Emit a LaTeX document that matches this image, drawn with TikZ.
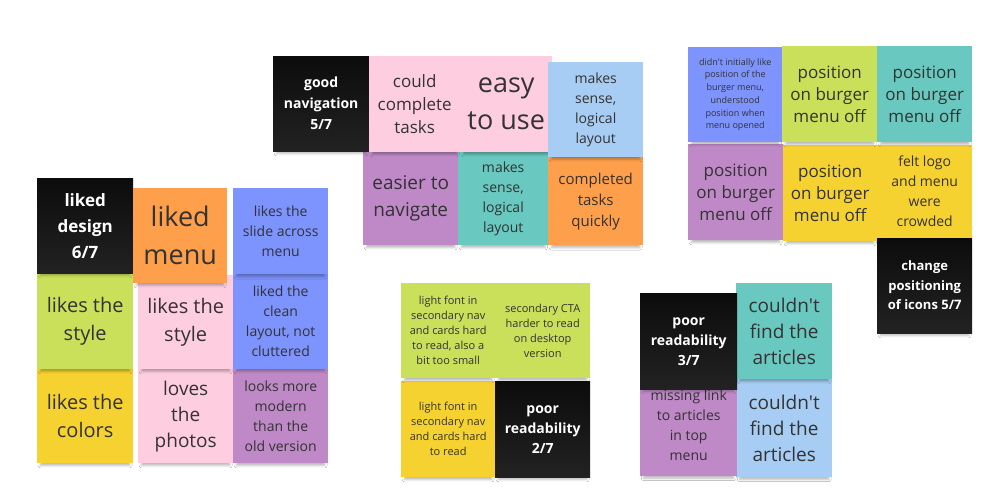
\documentclass[tikz,border=0pt]{standalone}
\usepackage{fontspec}
\setmainfont{Open Sans}[Ligatures=TeXOff]
\usetikzlibrary{shadows.blur}
\definecolor{ntext}{HTML}{333333}
\definecolor{cblack}{HTML}{0C0C0C}
\definecolor{cblack2}{HTML}{222222}
\definecolor{cpink}{HTML}{FECDE0}
\definecolor{clblue}{HTML}{A8CDF4}
\definecolor{cpurple}{HTML}{BF89C8}
\definecolor{cteal}{HTML}{69C8C0}
\definecolor{corange}{HTML}{FE9F4C}
\definecolor{cviolet}{HTML}{7D93FE}
\definecolor{clime}{HTML}{CADF5A}
\definecolor{cyellow}{HTML}{F6D230}
\newcommand{\fs}[2]{\fontsize{#1}{#2}\selectfont}
\begin{document}
\begin{tikzpicture}[x=1pt,y=-1pt,
  note/.style={anchor=north west, inner sep=0pt, align=center, text=ntext,
    blur shadow={shadow xshift=0pt, shadow yshift=-6pt, shadow scale=0.93, shadow blur radius=2.5pt, shadow opacity=28}},
  darknote/.style={note, text=white, top color=cblack, bottom color=cblack2, font=\bfseries},
  sz/.style n args={2}{minimum width=#1, minimum height=#2}
]
\fill[white] (0,0) rectangle (1007,499);
\useasboundingbox (0,0) rectangle (1007,499);

% ---- cluster 1 (top middle): lower row first
\node[note, fill=cpurple, sz={95pt}{93pt}, font=\fs{19}{27}] (en) at (363,152) {easier to\\navigate};
\node[note, fill=cteal, sz={90pt}{93pt}, font=\fs{14}{20}] (ms2) at (458,152) {makes\\sense,\\logical\\layout};
\node[note, fill=corange, sz={95pt}{88pt}, font=\fs{15}{21}] (ct) at (548,157) {completed\\tasks\\quickly};
\node[darknote, sz={96pt}{95pt}, font=\bfseries\fs{14}{21}] (gn) at (273,56) {good\\navigation\\5/7};
\node[note, fill=cpink, sz={91pt}{96pt}, font=\fs{17}{23}] (cc) at (369,56) {could\\complete\\tasks};
\node[note, fill=cpink, sz={92pt}{96pt}, font=\fs{27}{37}] (eu) at (460,56) {easy\\to use};
\node[note, fill=clblue, sz={95pt}{95pt}, font=\fs{14}{20}] (ms1) at (548,62) {makes\\sense,\\logical\\layout};

% ---- cluster 2 (top right)
\node[darknote, sz={95pt}{96pt}, font=\bfseries\fs{13}{19.5}] (cp) at (877,237) {change\\positioning\\of icons 5/7};
\node[note, fill=cpurple, sz={95pt}{96pt}, font=\fs{17}{22}] (p3) at (688,144) {position\\on burger\\menu off};
\node[note, fill=cyellow, sz={94pt}{96pt}, font=\fs{17}{22}] (p4) at (783,145) {position\\on burger\\menu off};
\node[note, fill=cyellow, sz={95pt}{93pt}, font=\fs{14}{20}] (fl) at (877,145) {felt logo\\and menu\\were\\crowded};
\node[note, fill=cviolet, sz={94pt}{95pt}, font=\fs{9}{12.7}] (di) at (688,47) {didn't initially like\\position of the\\burger menu,\\understood\\position when\\menu opened};
\node[note, fill=clime, sz={95pt}{96pt}, font=\fs{17}{22}] (p1) at (782,46) {position\\on burger\\menu off};
\node[note, fill=cteal, sz={95pt}{96pt}, font=\fs{17}{22}] (p2) at (877,46) {position\\on burger\\menu off};

% ---- cluster 3 (left)
\node[note, fill=cyellow, sz={96pt}{94pt}, font=\fs{20}{28}] (lco) at (37,369) {likes the\\colors};
\node[note, fill=cpink, sz={95pt}{94pt}, font=\fs{19}{26}] (lph) at (138,369) {loves\\the\\photos};
\node[note, fill=cpurple, sz={95pt}{94pt}, font=\fs{14}{20}] (lmo) at (233,369) {looks more\\modern\\than the\\old version};
\node[note, fill=clime, sz={96pt}{96pt}, font=\fs{20}{28}] (lst) at (37,273) {likes the\\style};
\node[note, fill=cpink, sz={95pt}{94pt}, font=\fs{20}{28}] (lsp) at (138,275) {likes the\\style};
\node[note, fill=cviolet, sz={95pt}{95pt}, font=\fs{14}{20}] (lcl) at (233,274) {liked the\\clean\\layout, not\\cluttered};
\node[darknote, sz={96pt}{95pt}, font=\bfseries\fs{17}{26}] (ld) at (37,178) {liked\\design\\6/7};
\node[note, fill=corange, sz={94pt}{95pt}, font=\fs{27}{38}] (lm) at (133,188) {liked\\menu};
\node[note, fill=cviolet, sz={95pt}{86pt}, font=\fs{14}{20}] (ls1) at (233,188) {likes the\\slide across\\menu};

% ---- cluster 4 (bottom middle)
\node[note, fill=cyellow, sz={94pt}{96pt}, font=\fs{11}{15}] (lf2) at (401,381) {light font in\\secondary nav\\and cards hard\\to read};
\node[darknote, sz={95pt}{96pt}, font=\bfseries\fs{14}{20}] (pr2) at (495,381) {poor\\readability\\2/7};
\node[note, fill=clime, sz={94pt}{95pt}, font=\fs{11}{15}] (lf1) at (401,283) {light font in\\secondary nav\\and cards hard\\to read, also a\\bit too small};
\node[note, fill=clime, sz={95pt}{95pt}, font=\fs{11}{15}] (sc) at (495,283) {secondary CTA\\harder to read\\on desktop\\version};

% ---- cluster 5 (bottom right)
\node[note, fill=clblue, sz={96pt}{98pt}, font=\fs{19}{26}] (cf2) at (736,379) {couldn't\\find the\\articles};
\node[note, fill=cpurple, sz={97pt}{101pt}, font=\fs{14}{20}] (ml) at (640,375) {missing link\\to articles\\in top\\menu};
\node[note, fill=cteal, sz={96pt}{96pt}, font=\fs{19}{26}] (cf1) at (736,283) {couldn't\\find the\\articles};
\node[darknote, sz={97pt}{96pt}, font=\bfseries\fs{14}{20}] (pr3) at (640,293) {poor\\readability\\3/7};
\end{tikzpicture}
\end{document}
